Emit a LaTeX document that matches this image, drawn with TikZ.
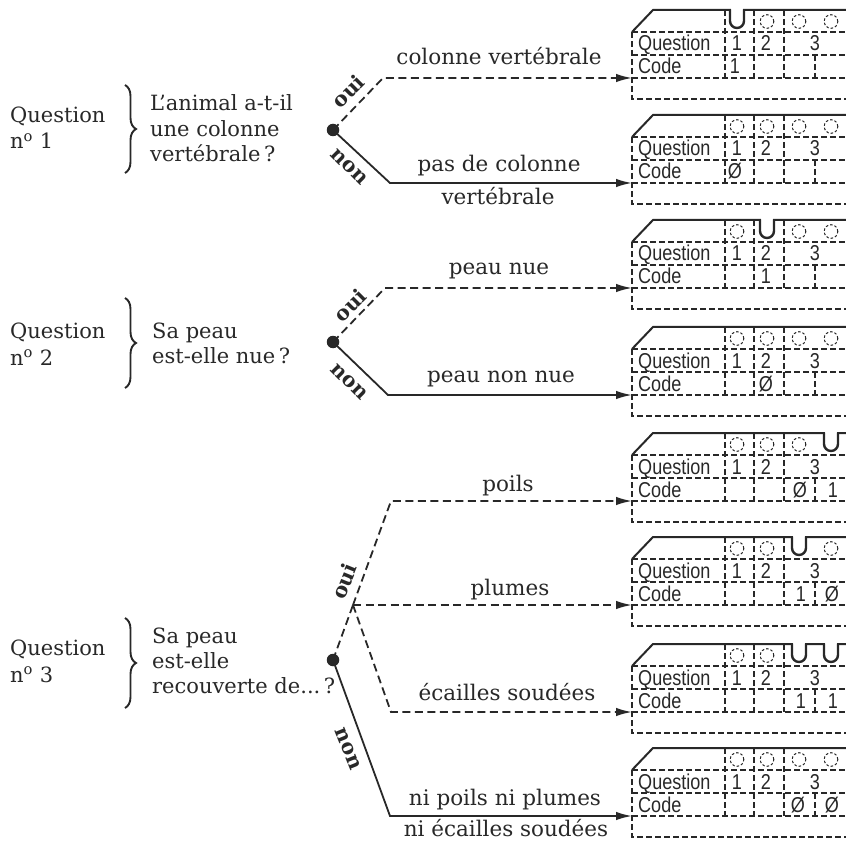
\documentclass[tikz,border=0pt]{standalone}
\usepackage{fontspec}
\setmainfont{DejaVu Serif}
\newfontfamily\cardfont[FakeStretch=0.84]{Liberation Sans}
\usetikzlibrary{arrows.meta,decorations.pathreplacing}
\definecolor{ink}{RGB}{40,40,40}

\newcommand\notch[1]{%
  \fill[white] (#1-6,-3) rectangle (#1+6,2.5);
  \draw[cardsolid,line width=2.4pt] (#1-7,-0.5) -- (#1-7,11) arc[start angle=180,end angle=360,radius=7pt] -- (#1+7,-0.5);}
\newcommand\ce[3]{\node[ctext,anchor=base] (#1) at (#2,64) {#3};}
\newcommand\card[4]{%
\begin{scope}[shift={(0,#2)},name prefix=#1-]
  \draw[cardsolid] (632,22) -- (653,0) -- (846,0);
  \draw[carddash] (632,22) -- (632,89) -- (846,89);
  \draw[carddash] (632,22) -- (846,22);
  \draw[carddash] (632,45) -- (846,45);
  \draw[carddash] (632,68) -- (846,68);
  \foreach \x in {725,754,784} \draw[carddash] (\x,0) -- (\x,68);
  \draw[carddash] (815,45) -- (815,68);
  \foreach \x in {#3} \draw[draw=ink,line width=1pt,dash pattern=on 2.5pt off 2pt] (\x,11.5) circle[radius=6.8pt];
  \node[ctext,anchor=base west] (q) at (638,41) {Question};
  \node[ctext,anchor=base west] (c) at (638,64) {Code};
  \node[ctext,anchor=base] (n1) at (737,41) {1};
  \node[ctext,anchor=base] (n2) at (766,41) {2};
  \node[ctext,anchor=base] (n3) at (815,41) {3};
  \coordinate (in) at (632,68);
  #4
\end{scope}}

\begin{document}
\begin{tikzpicture}[x=1pt,y=-1pt,
  cardsolid/.style={draw=ink,line width=2pt},
  carddash/.style={draw=ink,line width=1.3pt,dash pattern=on 6pt off 3pt},
  ctext/.style={text=ink,inner sep=0pt,font=\cardfont\fontsize{21.5}{22}\selectfont},
  qtext/.style={text=ink,inner sep=0pt,font=\fontsize{21}{26}\selectfont},
  lbl/.style={text=ink,inner sep=0pt,font=\fontsize{21.5}{26}\selectfont,anchor=base},
  yn/.style={text=ink,inner sep=0pt,font=\fontsize{20.5}{22}\selectfont\bfseries},
  bracestyle/.style={draw=ink,line width=1.9pt,decorate,decoration={brace,amplitude=11pt}},
  dot/.style={circle,fill=ink,inner sep=0pt,minimum size=12.5pt},
  ybr/.style={draw=ink,line width=1.8pt,dash pattern=on 8pt off 4.5pt,-{Latex[length=16pt,width=8.5pt]}},
  nbr/.style={draw=ink,line width=1.8pt,-{Latex[length=16pt,width=8.5pt]}},
  ybrplain/.style={draw=ink,line width=1.8pt,dash pattern=on 8pt off 4.5pt}]
\useasboundingbox (0,0) rectangle (846,842);

% ---- cards ----
\card{c1}{10}{767,799,831}{\notch{737}\ce{v}{735}{1}}
\card{c2}{115}{737,767,799,831}{\ce{v}{735}{Ø}}
\card{c3}{220}{737,799,831}{\notch{767}\ce{v}{766}{1}}
\card{c4}{327}{737,767,799,831}{\ce{v}{766}{Ø}}
\card{c5}{433}{737,767,799}{\notch{831}\ce{va}{800}{Ø}\ce{vb}{833}{1}}
\card{c6}{537}{737,767,831}{\notch{799}\ce{va}{801}{1}\ce{vb}{832}{Ø}}
\card{c7}{644}{737,767}{\notch{799}\notch{831}\ce{va}{801}{1}\ce{vb}{833}{1}}
\card{c8}{748}{737,767,799,831}{\ce{va}{798}{Ø}\ce{vb}{832}{Ø}}

% ---- question 1 ----
\node[qtext,anchor=base west] (q1a) at (10,123) {Question};
\node[qtext,anchor=base west] (q1b) at (10,149) {n\textsuperscript{o} 1};
\draw[bracestyle] (125,85) -- (125,173);
\node[qtext,anchor=base west] (t1a) at (150,111) {L’animal a-t-il};
\node[qtext,anchor=base west] (t1b) at (150,137) {une colonne};
\node[qtext,anchor=base west] (t1c) at (150,162) {vertébrale\,?};
\node[dot] (d1) at (333,130) {};
\coordinate (k1y) at (383,78);
\coordinate (k1n) at (390,183);
\draw[ybr] (d1.center) -- (k1y) -- (c1-in);
\draw[nbr] (d1.center) -- (k1n) -- (c2-in);
\node[yn,rotate=45] (o1) at (348,91) {oui};
\node[yn,rotate=-45] (m1) at (349,167) {non};
\node[lbl] (l1) at (499,65) {colonne vertébrale};
\node[lbl] (l2a) at (499,172) {pas de colonne};
\node[lbl] (l2b) at (498,205) {vertébrale};

% ---- question 2 ----
\node[qtext,anchor=base west] (q2a) at (10,338) {Question};
\node[qtext,anchor=base west] (q2b) at (10,365) {n\textsuperscript{o} 2};
\draw[bracestyle] (125,298) -- (125,388);
\node[qtext,anchor=base west] (t2a) at (152,338) {Sa peau};
\node[qtext,anchor=base west] (t2b) at (152,363) {est-elle nue\,?};
\node[dot] (d2) at (333,342) {};
\coordinate (k2y) at (385,288);
\coordinate (k2n) at (388,395);
\draw[ybr] (d2.center) -- (k2y) -- (c3-in);
\draw[nbr] (d2.center) -- (k2n) -- (c4-in);
\node[yn,rotate=45] (o2) at (350,305) {oui};
\node[yn,rotate=-45] (m2) at (349,382) {non};
\node[lbl] (l3) at (499,275) {peau nue};
\node[lbl] (l4) at (501,382) {peau non nue};

% ---- question 3 ----
\node[qtext,anchor=base west] (q3a) at (10,655) {Question};
\node[qtext,anchor=base west] (q3b) at (10,682) {n\textsuperscript{o} 3};
\draw[bracestyle] (125,618) -- (125,708);
\node[qtext,anchor=base west] (t3a) at (152,643) {Sa peau};
\node[qtext,anchor=base west] (t3b) at (152,668) {est-elle};
\node[qtext,anchor=base west] (t3c) at (152,693) {recouverte de...\,?};
\node[dot] (d3) at (333,660) {};
\coordinate (j3) at (353,605);
\coordinate (k3a) at (391,501);
\coordinate (k3c) at (391,712);
\coordinate (k3n) at (390,816);
\draw[ybrplain] (d3.center) -- (j3);
\draw[ybr] (j3) -- (k3a) -- (c5-in);
\draw[ybr] (j3) -- (c6-in);
\draw[ybr] (j3) -- (k3c) -- (c7-in);
\draw[nbr] (d3.center) -- (k3n) -- (c8-in);
\node[yn,rotate=68] (o3) at (344,581) {oui};
\node[yn,rotate=-68] (m3) at (348,749) {non};
\node[lbl] (l5) at (508,491) {poils};
\node[lbl] (l6) at (510,595) {plumes};
\node[lbl] (l7) at (507,700) {écailles soudées};
\node[lbl] (l8a) at (505,805) {ni poils ni plumes};
\node[lbl] (l8b) at (506,836) {ni écailles soudées};
\end{tikzpicture}
\end{document}
